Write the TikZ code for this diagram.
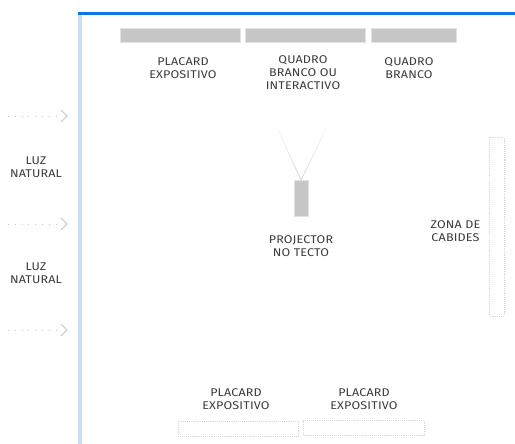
\documentclass[tikz,border=0pt]{standalone}
\usepackage{fontspec}
\setmainfont[FakeStretch=1.12,LetterSpace=1.5]{Fira Sans}
\usetikzlibrary{arrows.meta}
\definecolor{topblue}{HTML}{1276E0}
\definecolor{sideblue}{HTML}{C9DFF8}
\definecolor{boxgray}{HTML}{C6C6C6}
\definecolor{dotgray}{HTML}{D6D6D6}
\definecolor{labelink}{HTML}{3C3C3C}
\tikzset{
  solidbox/.style={fill=boxgray,draw=boxgray!50!white,line width=.5pt,inner sep=0pt,minimum width=#1},
  dotbox/.style={draw=dotgray,densely dotted,line width=.9pt,fill=none,inner sep=0pt},
  lab/.style={font=\fontsize{11.2}{13}\selectfont,text=labelink,align=center,inner sep=0pt},
  lightarrow/.style={draw=boxgray,dash pattern=on .8pt off 6pt,line width=.8pt},
  chevron/.style={draw=boxgray,line width=1pt}
}
\begin{document}
\begin{tikzpicture}[x=1pt,y=-1pt]
\useasboundingbox (0,0) rectangle (515,444);
\fill[white] (0,0) rectangle (515,444);
\fill[sideblue] (78,12) rectangle (82,444);
\fill[topblue] (78,12) rectangle (515,15);
\draw[solidbox=0pt] (120,28) rectangle (240.5,42);
\draw[solidbox=0pt] (245.5,28) rectangle (365.5,42);
\draw[solidbox=0pt] (371.5,28) rectangle (456.5,42);
\draw[solidbox=0pt] (294,180.5) rectangle (308,216.5);
\shade[top color=white,bottom color=boxgray!70!white] (273,120) -- (274,120) -- (301.5,180) -- (300.5,180) -- cycle;
\shade[top color=white,bottom color=boxgray!70!white] (330,120) -- (331,120) -- (301.5,180) -- (300.5,180) -- cycle;
\draw[dotbox] (489.5,137.5) rectangle (504,316);
\draw[dotbox] (178,421) rectangle (298,436);
\draw[dotbox] (303,420.5) rectangle (424,435);
\node[lab] (p1) at (183,68.5) {PLACARD\\EXPOSITIVO};
\node[lab] (q1) at (303,73) {QUADRO\\BRANCO OU\\INTERACTIVO};
\node[lab] (q2) at (409,68.5) {QUADRO\\BRANCO};
\node[lab] (pj) at (301,246.5) {PROJECTOR\\NO TECTO};
\node[lab] (zc) at (455.5,231.5) {ZONA DE\\CABIDES};
\node[lab] (p2) at (236,399.5) {PLACARD\\EXPOSITIVO};
\node[lab] (p3) at (364,399.5) {PLACARD\\EXPOSITIVO};
\node[lab] (l1) at (36,167.5) {LUZ\\NATURAL};
\node[lab] (l2) at (36,273.5) {LUZ\\NATURAL};
\foreach \n/\y in {a/116,b/224,c/330}{
  \coordinate (\n s) at (8,\y);
  \coordinate (\n e) at (61,\y);
  \draw[lightarrow] (\n s) -- (\n e);
  \draw[chevron] ([xshift=0pt,yshift=-6pt]\n e) -- ([xshift=6pt]\n e) -- ([yshift=6pt]\n e);
}
\end{tikzpicture}
\end{document}
